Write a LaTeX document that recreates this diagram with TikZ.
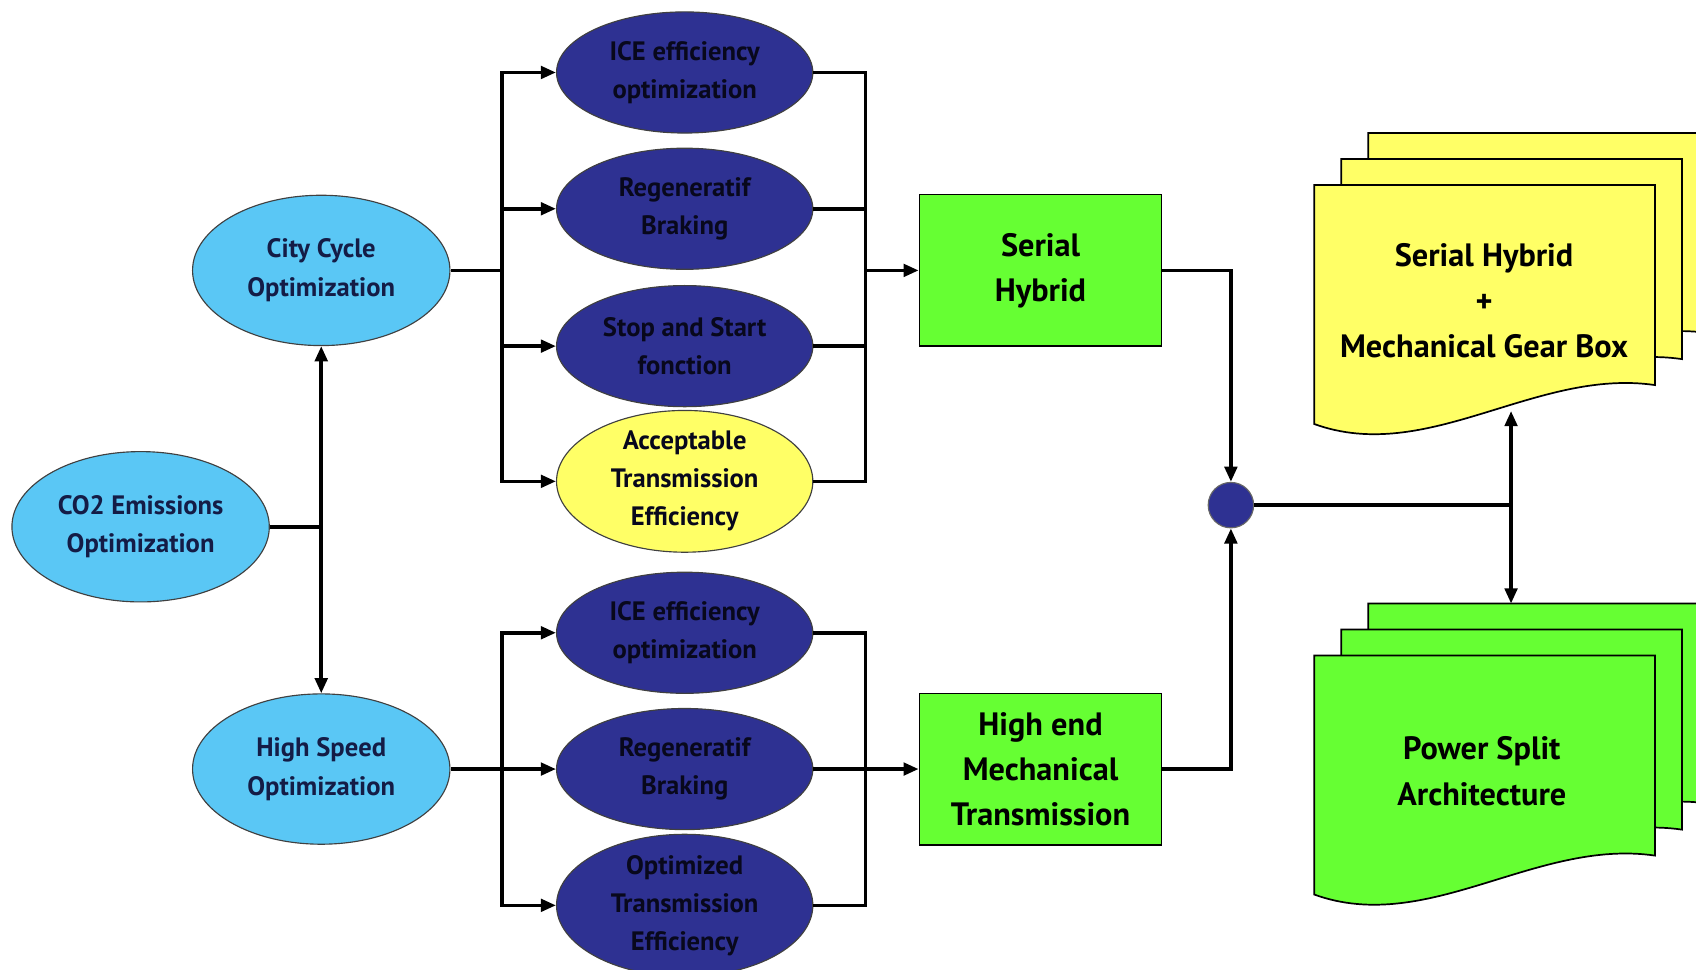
\documentclass[tikz,border=0pt]{standalone}
\usepackage{fontspec}
\setmainfont{PT Sans}
\usetikzlibrary{arrows.meta,shapes.geometric}
\definecolor{skyb}{RGB}{90,199,245}
\definecolor{navyb}{RGB}{46,49,146}
\definecolor{yel}{RGB}{255,255,102}
\definecolor{grn}{RGB}{102,255,51}
\definecolor{darktxt}{RGB}{20,28,70}
\definecolor{inktxt}{RGB}{8,8,28}
\tikzset{
  conn/.style={line width=1.9pt, draw=black},
  arr/.style={conn, -{Triangle[length=0.28cm,width=0.23cm]}},
  lightell/.style={ellipse, draw=black!75, line width=0.6pt, fill=skyb,
    minimum width=4.76cm, minimum height=2.78cm, inner sep=0pt, align=center,
    font=\fontsize{14}{20.4}\selectfont\bfseries, text=darktxt},
  darkell/.style={ellipse, draw=black!75, line width=0.6pt, fill=navyb,
    minimum width=4.74cm, minimum height=2.24cm, inner sep=0pt, align=center,
    font=\fontsize{14}{20}\selectfont\bfseries, text=inktxt},
  greenbox/.style={rectangle, draw=black, line width=0.8pt, fill=grn,
    minimum width=4.48cm, minimum height=2.8cm, inner sep=0pt, align=center,
    font=\fontsize{17}{23.8}\selectfont\bfseries, text=black},
  docline/.style={draw=black, line width=0.9pt},
  doctext/.style={align=center, inner sep=0pt,
    font=\fontsize{17}{23.8}\selectfont\bfseries, text=black},
  junction/.style={circle, fill=navyb, draw=black!60, line width=0.6pt,
    minimum size=0.84cm, inner sep=0pt}
}
\begin{document}
\begin{tikzpicture}[x=0.02cm,y=-0.02cm]
\useasboundingbox (0,0) rectangle (1568,896);
\clip (0,0) rectangle (1568,896);
% stacked document sheets
\foreach \dx/\dy in {50/-48, 25/-24, 0/0} {
  \draw[docline, fill=yel, shift={(\dx,\dy)}]
    (1215,171) -- (1530,171) -- (1530,356)
    .. controls (1420,340) and (1320,430) .. (1215,392) -- cycle;
  \draw[docline, fill=grn, shift={(\dx,\dy+435)}]
    (1215,171) -- (1530,171) -- (1530,356)
    .. controls (1420,340) and (1320,430) .. (1215,392) -- cycle;
}
\node[doctext] (ydoc) at (1372,278) {Serial Hybrid\\+\\Mechanical Gear Box};
\node[doctext] (gdoc) at (1370,713) {Power Split\\Architecture};
\coordinate (ydocbot) at (1397,380);
\coordinate (gdoctop) at (1397,558);

% left column
\node[lightell] (co2) at (130,487) {CO2 Emissions\\Optimization};
\node[lightell] (city) at (297,250) {City Cycle\\Optimization};
\node[lightell] (high) at (297,711) {High Speed\\Optimization};

% middle column
\node[darkell] (ice1) at (633,67) {ICE efficiency\\optimization};
\node[darkell] (reg1) at (633,193) {Regeneratif\\Braking};
\node[darkell] (stop) at (633,320) {Stop and Start\\fonction};
\node[darkell, fill=yel] (acc) at (633,445) {Acceptable\\Transmission\\Efficiency};
\node[darkell] (ice2) at (633,585) {ICE efficiency\\optimization};
\node[darkell] (reg2) at (633,711) {Regeneratif\\Braking};
\node[darkell] (opt) at (633,837) {Optimized\\Transmission\\Efficiency};

% boxes
\node[greenbox] (serial) at (962,250) {Serial\\Hybrid};
\node[greenbox] (hiend) at (962,711) {High end\\Mechanical\\Transmission};
\node[junction] (jn) at (1138,467) {};

% connectors
\coordinate (j0) at (297,487);
\draw[conn] (co2.east) -- (j0);
\draw[arr] (j0) -- (city.south);
\draw[arr] (j0) -- (high.north);

\coordinate (lb1) at (464,250);
\coordinate (rb1) at (800,250);
\draw[conn] (city.east) -- (lb1);
\foreach \n in {ice1,reg1,stop,acc} {
  \draw[arr] (lb1) |- (\n.west);
  \draw[conn] (\n.east) -| (rb1);
}
\draw[arr] (rb1) -- (serial.west);

\coordinate (lb2) at (464,711);
\coordinate (rb2) at (800,711);
\draw[conn] (high.east) -- (lb2);
\foreach \n in {ice2,reg2,opt} {
  \draw[arr] (lb2) |- (\n.west);
  \draw[conn] (\n.east) -| (rb2);
}
\draw[arr] (rb2) -- (hiend.west);

\draw[arr] (serial.east) -| (jn.north);
\draw[arr] (hiend.east) -| (jn.south);
\coordinate (j2) at (1397,467);
\draw[conn] (jn.east) -- (j2);
\draw[arr] (j2) -- (ydocbot);
\draw[arr] (j2) -- (gdoctop);
\end{tikzpicture}
\end{document}
